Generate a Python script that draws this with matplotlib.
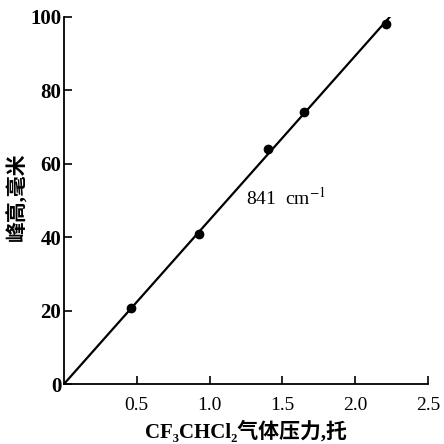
import numpy as np
import matplotlib.pyplot as plt

# 数据: CF3CHCl2 压力 (托) 与 峰高 (毫米)
pressure = [0.46, 0.93, 1.40, 1.65, 2.21]
peak_height = [20.6, 41.0, 64.0, 74.0, 98.0]
fit_x = [0.0, 2.26]
fit_y = [0.0, 101.0]

x_ticks = [0.5, 1.0, 1.5, 2.0, 2.5]
x_ticklabels = ['0.5', '1.0', '1.5', '2.0', '2.5']
y_ticks = [0, 20, 40, 60, 80, 100]

plt.rcParams['font.family'] = ['Liberation Serif', 'DejaVu Serif', 'Noto Sans CJK SC']
plt.rcParams['mathtext.fontset'] = 'stix'

fig = plt.figure(figsize=(4.44, 4.44), dpi=100)
ax = fig.add_axes([0.144, 0.135, 0.820, 0.827])

ax.plot(fit_x, fit_y, color='black', lw=1.6)
ax.plot(pressure, peak_height, 'o', color='black', ms=6)

ax.set_xlim(0, 2.5)
ax.set_ylim(0, 100)
ax.spines['top'].set_visible(False)
ax.spines['right'].set_visible(False)
for s in ['left', 'bottom']:
    ax.spines[s].set_linewidth(1.3)

ax.set_xticks(x_ticks)
ax.set_xticklabels(x_ticklabels, fontsize=14)
ax.set_yticks(y_ticks)
ax.set_yticklabels([str(v) for v in y_ticks], fontsize=15, fontweight='bold')
ax.tick_params(direction='in', length=6, width=1.2, pad=9)
ax.tick_params(axis='y', pad=2)

ax.text(1.25, 49, '841  cm$^{-1}$', fontsize=14)

ax.set_xlabel('CF\u2083CHCl\u2082气体压力,托', fontsize=15, fontweight='bold', labelpad=5)
ax.set_ylabel('峰高,毫米', fontsize=15, fontweight='bold')
ax.yaxis.set_label_coords(-0.10, 0.51)

fig.savefig('out.png', dpi=100)
